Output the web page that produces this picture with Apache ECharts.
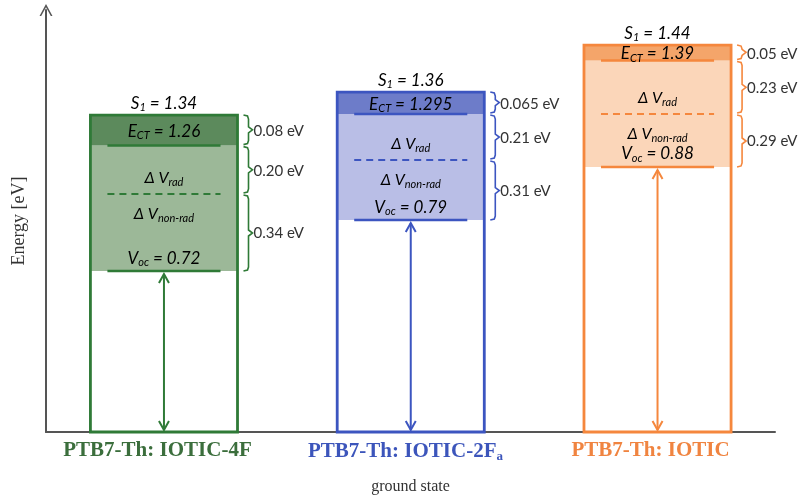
<!DOCTYPE html>
<html><head><meta charset="utf-8">
<script src="https://cdn.jsdelivr.net/npm/echarts@6/dist/echarts.min.js"></script>
<style>html,body{margin:0;padding:0;background:#fff}#c{width:802px;height:499px}</style>
</head><body><div id="c"></div>
<script>
const categories = ['PTB7-Th: IOTIC-4F', 'PTB7-Th: IOTIC-2Fa', 'PTB7-Th: IOTIC'];
// schematic drawn heights of each level on the (unticked) energy axis
const levelS1 = [1.337, 1.434, 1.632];
const levelECT = [1.208, 1.341, 1.567];
const levelSplit = [1.004, 1.147, 1.341];
const levelVoc = [0.679, 0.894, 1.118];
// printed values
const s1Labels = ['1.34', '1.36', '1.44'];
const ectLabels = ['1.26', '1.295', '1.39'];
const vocLabels = ['0.72', '0.79', '0.88'];
const gapCT = ['0.08 eV', '0.065 eV', '0.05 eV'];
const gapRad = ['0.20 eV', '0.21 eV', '0.23 eV'];
const gapNonRad = ['0.34 eV', '0.31 eV', '0.29 eV'];

const lineColors = ['#2f7a37', '#3c55c0', '#f5873d'];
const labelColors = ['#3b6e3c', '#3c55bb', '#f08440'];
const labelShift = [20, 10, 6];
const darkFill = ['#5c8a5c', '#6d7cc9', '#f4a56a'];
const lightFill = ['#9cb898', '#b9bee6', '#fbd6b9'];
const accent = ['#3c8a44', '#4b62cc', '#e06a36'];

const chart = echarts.init(document.getElementById('c'));
const FONT = 'Lato';

function richStyle(col) {
  return {
    i: { fontFamily: FONT, fontStyle: 'italic', fontSize: 17, color: col, lineHeight: 20 },
    sub: { fontFamily: FONT, fontStyle: 'italic', fontSize: 11, color: col, verticalAlign: 'bottom', lineHeight: 14, padding: [8, 0, 0, 0] },
    s: { fontFamily: FONT, fontStyle: 'italic', fontSize: 16, color: col, lineHeight: 20 },
    ss: { fontFamily: FONT, fontStyle: 'italic', fontSize: 11, color: col, verticalAlign: 'bottom', lineHeight: 14, padding: [8, 0, 0, 0] }
  };
}

function renderItem(params, api) {
  const i = api.value(0);
  const g = api.coord([i, 0]);
  const cx = g[0], y0 = g[1];
  const bw = api.size([1, 0])[0] * 0.596;
  const L = cx - bw / 2, R = cx + bw / 2;
  const yTop = api.coord([i, levelS1[i]])[1];
  const yE = api.coord([i, levelECT[i]])[1];
  const yS = api.coord([i, levelSplit[i]])[1];
  const yV = api.coord([i, levelVoc[i]])[1];
  const col = lineColors[i];
  const inset = 17;
  const els = [];
  els.push({ type: 'rect', shape: { x: L, y: yE, width: bw, height: yV - yE }, style: { fill: lightFill[i] } });
  els.push({ type: 'rect', shape: { x: L, y: yTop, width: bw, height: yE - yTop }, style: { fill: darkFill[i] } });
  els.push({ type: 'rect', shape: { x: L, y: yTop, width: bw, height: y0 - yTop }, style: { fill: null, stroke: col, lineWidth: 2.8 } });
  els.push({ type: 'line', shape: { x1: L + inset, y1: yE, x2: R - inset, y2: yE }, style: { stroke: col, lineWidth: 2.5 } });
  els.push({ type: 'line', shape: { x1: L + inset, y1: yS, x2: R - inset, y2: yS }, style: { stroke: col, lineWidth: 2, lineDash: [7, 5] } });
  els.push({ type: 'line', shape: { x1: L + inset, y1: yV, x2: R - inset, y2: yV }, style: { stroke: col, lineWidth: 2.5 } });
  // double arrow
  const aT = yV + 3, aB = y0 - 2;
  els.push({ type: 'line', shape: { x1: cx, y1: aT, x2: cx, y2: aB }, style: { stroke: col, lineWidth: 2 } });
  els.push({ type: 'polyline', shape: { points: [[cx - 5, aT + 9], [cx, aT], [cx + 5, aT + 9]] }, style: { stroke: col, lineWidth: 2, fill: null } });
  els.push({ type: 'polyline', shape: { points: [[cx - 5, aB - 9], [cx, aB], [cx + 5, aB - 9]] }, style: { stroke: col, lineWidth: 2, fill: null } });
  // brackets
  const bx = R + 6;
  function bracket(t, b) {
    const m = (t + b) / 2;
    els.push({ type: 'polyline', shape: { points: [[bx, t], [bx + 4, t + 1], [bx + 5, t + 4], [bx + 5, m - 3], [bx + 9, m], [bx + 5, m + 3], [bx + 5, b - 4], [bx + 4, b - 1], [bx, b]] }, style: { stroke: col, lineWidth: 1.6, fill: null } });
  }
  bracket(yTop, yE - 1);
  bracket(yE + 1, yS - 1);
  bracket(yS + 1, yV);
  const lx = R + 16;
  const gl = (t, y) => els.push({ type: 'text', style: { text: t, x: lx, y: y, align: 'left', verticalAlign: 'middle', fontFamily: FONT, fontSize: 15, fill: '#333' } });
  gl(gapCT[i], (yTop + yE) / 2 + 1);
  gl(gapRad[i], (yE + yS) / 2 + 1);
  gl(gapNonRad[i], (yS + yV) / 2 + 1);
  // level texts
  const dark = '#333';
  const tx = (text, y, c) => els.push({ type: 'text', style: { text: text, rich: richStyle(c), x: cx, y: y, align: 'center', verticalAlign: 'middle' } });
  tx('{i|S}{sub|1}{i| = ' + s1Labels[i] + '}', yTop - 12, dark);
  tx('{i|E}{sub|CT}{i| = ' + ectLabels[i] + '}', (yTop + yE) / 2 + 1, dark);
  tx('{s|Δ V}{ss|rad}', yS - 16, accent[i]);
  tx('{s|Δ V}{ss|non-rad}', yS + 20, accent[i]);
  tx('{i|V}{sub|oc}{i| = ' + vocLabels[i] + '}', yV - 13, dark);
  return { type: 'group', children: els };
}

const labelRich = {};
labelColors.forEach((c, k) => {
  labelRich['c' + k] = { color: c, fontFamily: 'Liberation Serif', fontWeight: 'bold', fontSize: 21, padding: [0, labelShift[k], 0, 0] };
  labelRich['b' + k] = { color: c, fontFamily: 'Liberation Serif', fontWeight: 'bold', fontSize: 21 };
  labelRich['s' + k] = { color: c, fontFamily: 'Liberation Serif', fontWeight: 'bold', fontSize: 13, verticalAlign: 'bottom', padding: [10, labelShift[k], 0, 0] };
});

chart.setOption({
  animation: false,
  grid: { left: 46, right: 27, top: 10, bottom: 67, outerBoundsMode: 'none', containLabel: false },
  xAxis: [{
    type: 'category', data: categories,
    name: 'ground state', nameLocation: 'middle', nameGap: 47,
    nameTextStyle: { fontFamily: 'Liberation Serif', fontSize: 16, color: '#333' },
    axisLine: { onZero: false, lineStyle: { color: '#555', width: 2 } },
    axisTick: { show: false },
    axisLabel: {
      margin: 8, interval: 0,
      formatter: (v, idx) => {
        if (v.endsWith('2Fa')) return '{b' + idx + '|' + v.slice(0, -1) + '}{s' + idx + '|a}';
        return '{c' + idx + '|' + v + '}';
      },
      rich: labelRich
    }
  }, {
    // position axis for the level boxes (category index along the ground line)
    type: 'value', min: -0.478, max: 2.476, show: false
  }],
  yAxis: {
    type: 'value', min: 0, max: 1.78,
    name: 'Energy [eV]', nameLocation: 'middle', nameGap: 18,
    nameTextStyle: { fontFamily: 'Liberation Serif', fontSize: 18, color: '#333' },
    axisLine: { show: true, onZero: false, lineStyle: { color: '#555', width: 2 }, symbol: ['none', 'path://M0,12 L6.5,0 L13,12 L11.3,12 L6.5,3.2 L1.7,12 Z'], symbolSize: [13, 12], symbolOffset: [0, 0] },
    axisTick: { show: false }, axisLabel: { show: false }, splitLine: { show: false }
  },
  series: [{
    type: 'custom', renderItem: renderItem, clip: false, xAxisIndex: 1,
    data: categories.map((c, k) => [k]),
    encode: { x: 0 }
  }]
});
</script></body></html>
